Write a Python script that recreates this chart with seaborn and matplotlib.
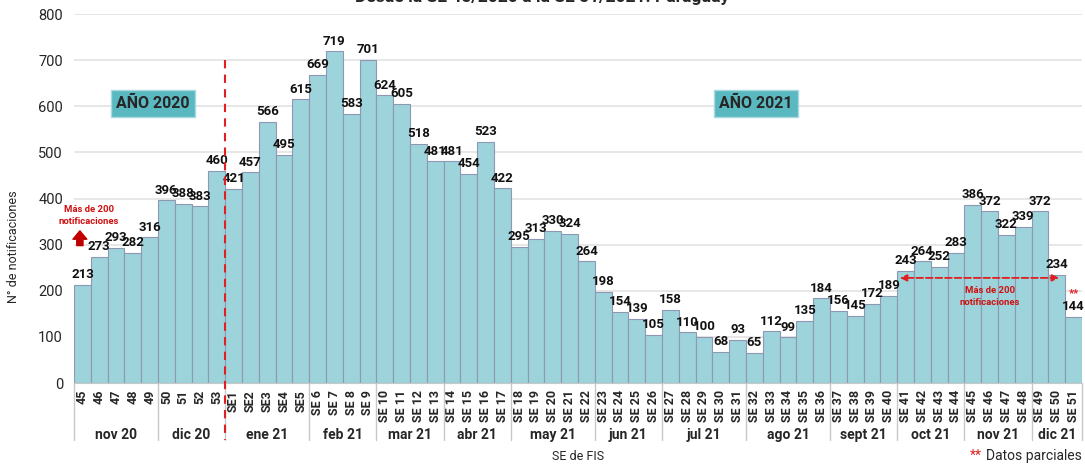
import matplotlib
matplotlib.use("Agg")
import matplotlib.pyplot as plt
import matplotlib.transforms as mtransforms
import seaborn as sns

# Data
weeks_2020 = ["45", "46", "47", "48", "49", "50", "51", "52", "53"]
weeks_2021 = ["SE1", "SE2", "SE3", "SE4", "SE5"] + ["SE %d" % i for i in range(6, 52)]
week_labels = weeks_2020 + weeks_2021
values = [213, 273, 293, 282, 316, 396, 388, 383, 460,
          421, 457, 566, 495, 615, 669, 719, 583, 701, 624,
          605, 518, 481, 481, 454, 523, 422, 295, 313, 330,
          324, 264, 198, 154, 139, 105, 158, 110, 100, 68,
          93, 65, 112, 99, 135, 184, 156, 145, 172, 189,
          243, 264, 252, 283, 386, 372, 322, 339, 372, 234,
          144]
months = ["nov 20", "dic 20", "ene 21", "feb 21", "mar 21", "abr 21", "may 21",
          "jun 21", "jul 21", "ago 21", "sept 21", "oct 21", "nov 21", "dic 21"]
weeks_per_month = [5, 4, 5, 4, 4, 4, 5, 4, 5, 5, 4, 4, 4, 3]

sns.set_style("white")
plt.rcParams['font.family'] = ['Roboto', 'DejaVu Sans']

fig = plt.figure(figsize=(10.85, 4.7), dpi=100)
ax = fig.add_axes([0.0682, 0.185, 0.929, 0.785])

sns.barplot(x=week_labels, y=values, color="#9dd3da", saturation=1,
            edgecolor="#8e98b4", linewidth=0.8, width=1.0, ax=ax)

ax.set_ylim(0, 800)
ax.set_xlim(-0.5, len(values) - 0.5)
ax.set_yticks(range(0, 801, 100))
ax.yaxis.grid(True, color="#e3e3e3", linewidth=1.2)
ax.set_axisbelow(True)
for s in ["top", "right", "left"]:
    ax.spines[s].set_visible(False)
ax.spines["bottom"].set_color("#c8c8c8")
ax.tick_params(axis="y", length=0, labelsize=10.5, pad=8)
ax.tick_params(axis="x", length=0, labelsize=9, pad=5)
ax.set_xticks(range(len(week_labels)))
ax.set_xticklabels(week_labels, rotation=90, fontweight="bold")

# value labels
for i, v in enumerate(values):
    ax.text(i, v + 8, str(v), ha="center", va="bottom", fontsize=9.5,
            fontweight="bold", color="#111111")

# month groups under the axis
trans = mtransforms.blended_transform_factory(ax.transData, ax.transAxes)
start = 0
for m, n in zip(months, weeks_per_month):
    ax.plot([start - 0.5, start - 0.5], [0, -0.155], transform=trans,
            color="#c8c8c8", linewidth=1, clip_on=False)
    ax.text(start + n / 2 - 0.5, -0.14, m, transform=trans, ha="center",
            va="center", fontsize=10, fontweight="bold")
    start += n
ax.plot([start - 0.5, start - 0.5], [0, -0.155], transform=trans,
        color="#c8c8c8", linewidth=1, clip_on=False)

# year split line
ax.plot([8.5, 8.5], [0.875, -0.155], transform=trans, color="#e02020",
        linewidth=1.5, linestyle=(0, (4, 3)), clip_on=False, zorder=5)

box = dict(boxstyle="square,pad=0.35", facecolor="#5ab8c1", edgecolor="#a9dadf")
ax.text(4.2, 606, "AÑO 2020", ha="center", va="center", fontsize=11.5,
        fontweight="bold", bbox=box)
ax.text(40.1, 606, "AÑO 2021", ha="center", va="center", fontsize=11.5,
        fontweight="bold", bbox=box)

# annotations
ax.text(0.4, 364, "Más de 200\nnotificaciones", ha="center", va="center",
        fontsize=6.8, fontweight="bold", color="#d01010", linespacing=1.4)
ax.annotate("", xy=(-0.15, 336), xytext=(-0.15, 292),
            arrowprops=dict(arrowstyle="simple,head_width=1.0,head_length=0.6,tail_width=0.45",
                            color="#c00000"))
ax.annotate("", xy=(48.5, 228), xytext=(58.3, 228),
            arrowprops=dict(arrowstyle="<|-|>,head_width=0.2,head_length=0.4",
                            color="#e02020", linestyle="--", linewidth=1.3))
ax.text(54.0, 187, "Más de 200\nnotificaciones", ha="center", va="center",
        fontsize=6.8, fontweight="bold", color="#d01010", linespacing=1.4)
ax.text(59.0, 195, "**", ha="center", va="center", fontsize=8,
        fontweight="bold", color="#e02020")

ax.set_ylabel("N° de notificaciones", fontsize=9)
ax.yaxis.set_label_coords(-0.054, 0.37)
ax.set_xlabel("")
fig.text(0.533, 0.015, "SE de FIS", ha="center", va="bottom", fontsize=9)
fig.text(0.997, 0.015, "Datos parciales", ha="right", va="bottom", fontsize=10)
fig.text(0.905, 0.015, "**", ha="right", va="bottom", fontsize=10, color="#e02020")

fig.text(0.5, 1.006, "Desde la SE 45/2020 a la SE 51/2021. Paraguay",
         ha="center", va="center", fontsize=12.5, fontweight="bold")

fig.savefig("out.png", dpi=100)
